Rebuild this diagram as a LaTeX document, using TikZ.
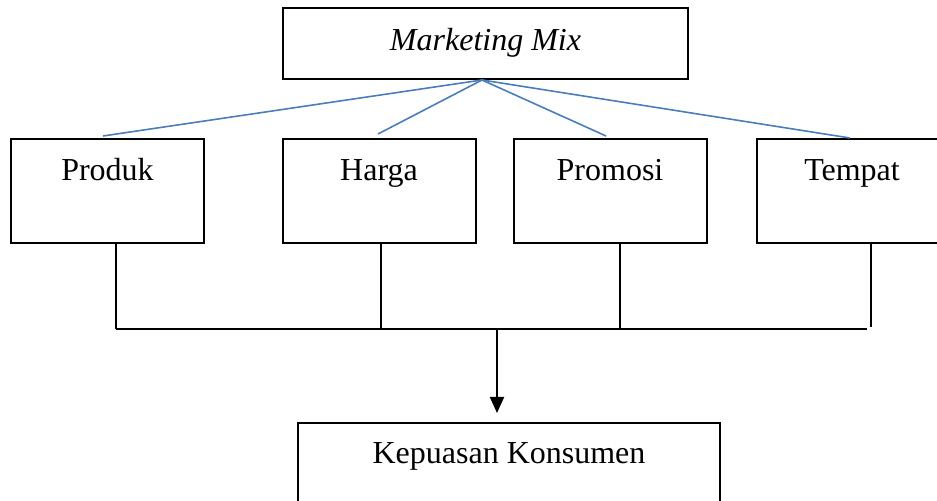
\documentclass[tikz,border=0pt]{standalone}
\usepackage{fontspec}
\setmainfont{Liberation Serif}
\usetikzlibrary{arrows.meta}
\definecolor{linkblue}{RGB}{74,126,187}

\begin{document}
\begin{tikzpicture}[x=0.5pt,y=-0.5pt,
  box/.style={draw,line width=1pt,inner sep=0pt,font=\fontsize{16}{19}\selectfont},
  topbox/.style={box,minimum width=202.5pt,text height=21.5pt,text depth=14pt},
  subbox/.style={box,minimum width=96.5pt,text height=21pt,text depth=31pt},
  link/.style={linkblue,line width=0.8pt}]
\useasboundingbox (0,0) rectangle (937,501);

\node[topbox] (mix) at (485.5,43.5) {\textit{Marketing Mix}};

\node[subbox] (produk) at (107.5,191) {Produk};
\node[subbox] (harga) at (379,191) {Harga};
\node[subbox] (promosi) at (610,191) {Promosi};
\node[subbox,minimum width=95pt] (tempat) at (852,191) {Tempat};

\node[subbox,minimum width=211pt,text height=20.5pt,text depth=31.5pt] (puas) at (509,475) {Kepuasan Konsumen};

% ujung garis biru
\coordinate (apex) at (482,80);
\coordinate (e1) at (103,136);
\coordinate (e2) at (378,134);
\coordinate (e3) at (606,136);
\coordinate (e4) at (850,138);
\draw[link] (apex) -- (e1);
\draw[link] (apex) -- (e2);
\draw[link] (apex) -- (e3);
\draw[link] (apex) -- (e4);

% garis hitam ke bawah
\coordinate (b1) at (116,329);
\coordinate (b2) at (381,329);
\coordinate (b3) at (620,329);
\coordinate (b4) at (867,329);
\coordinate (t4) at (871,327);
\coordinate (bm) at (497,329);
\draw[line width=1pt] (b1 |- produk.south) -- (b1);
\draw[line width=1pt] (b2 |- harga.south) -- (b2);
\draw[line width=1pt] (b3 |- promosi.south) -- (b3);
\draw[line width=1pt] (t4 |- tempat.south) -- (t4);
\draw[line width=1pt] (b1) -- (b4);
\draw[line width=1pt,-{Triangle[length=8pt,width=7pt]},shorten >=4.5pt] (bm) -- (bm |- puas.north);
\end{tikzpicture}
\end{document}
